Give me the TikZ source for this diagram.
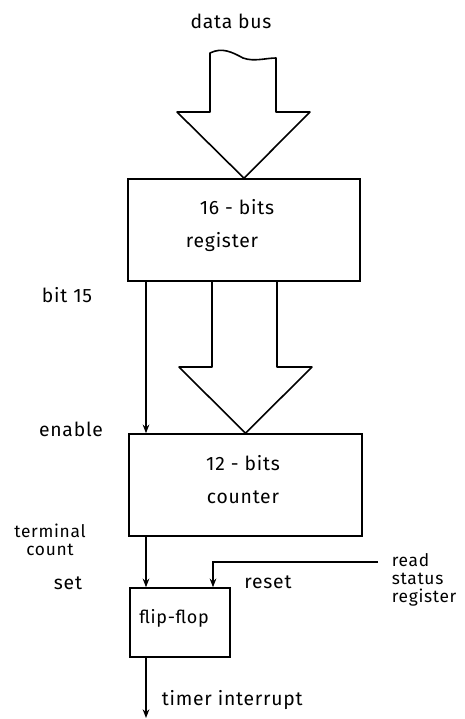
\documentclass[tikz,border=0pt]{standalone}
\usepackage{fontspec}
\setmainfont[LetterSpace=4]{Fira Sans}
\usetikzlibrary{arrows.meta}
\begin{document}
\begin{tikzpicture}[x=0.75pt,y=-0.75pt,
    line width=1.2pt,
    blockbox/.style={draw, rectangle, inner sep=0pt},
    lbl/.style={font=\fontsize{14.5}{15}\selectfont, inner sep=0pt},
    sig/.style={-{Stealth[length=6.5pt,width=5pt]}},
  ]
  \useasboundingbox (0,0) rectangle (465,719);

  % blocks
  \node[blockbox, minimum width=174pt, minimum height=76.5pt] (reg) at (244,230) {};
  \node[blockbox, minimum width=174.75pt, minimum height=76.5pt] (cnt) at (245.5,485) {};
  \node[blockbox, minimum width=75pt, minimum height=51.75pt] (ff) at (180,622.5) {};

  % block texts
  \node[lbl] (regA) at (237,207) {16 - bits};
  \node[lbl] (regB) at (222,242) {register};
  \node[lbl] (cntA) at (243,463) {12 - bits};
  \node[lbl] (cntB) at (243,497) {counter};
  \node[lbl, font=\fontsize{13.5}{14}\selectfont] (ffT) at (174,618) {flip-flop};

  % wide bus arrow into the register
  \draw[line join=round] (210,53) .. controls (222,47) and (232,52) .. (243,58)
        .. controls (254,62) and (266,58) .. (276,58)
        -- (276,112) -- (310,112) -- (reg.north) -- (177,112) -- (210,112) -- cycle;

  % wide bus arrow from register to counter
  \draw[line join=round] (212,281) -- (212,367) -- (179,367) -- (cnt.north)
        -- (312,367) -- (277,367) -- (277,281);

  % single signal lines
  \coordinate (bx) at (146,0);
  \coordinate (rx) at (213,0);
  \coordinate (rsr) at (378,562);
  \coordinate (out) at (146,718);
  \draw[sig] (reg.south -| bx) -- (cnt.north -| bx);
  \draw[sig] (cnt.south -| bx) -- (ff.north -| bx);
  \draw[sig] (rsr) -| (ff.north -| rx);
  \draw[sig] (ff.south -| bx) -- (out);

  % labels
  \node[lbl] (db) at (231,21) {data bus};
  \node[lbl] (b15) at (67,295) {bit 15};
  \node[lbl] (en) at (71,429) {enable};
  \node[lbl, align=center, font=\fontsize{13}{13.5}\selectfont] (tc) at (50,540) {terminal\\count};
  \node[lbl] (set) at (68,583) {set};
  \node[lbl] (rst) at (268,582) {reset};
  \node[lbl, anchor=west, align=left, font=\fontsize{13}{13.5}\selectfont] (rd) at (391,580) {read\\status\\register};
  \node[lbl, anchor=west] (ti) at (161,700) {timer interrupt};
\end{tikzpicture}
\end{document}
